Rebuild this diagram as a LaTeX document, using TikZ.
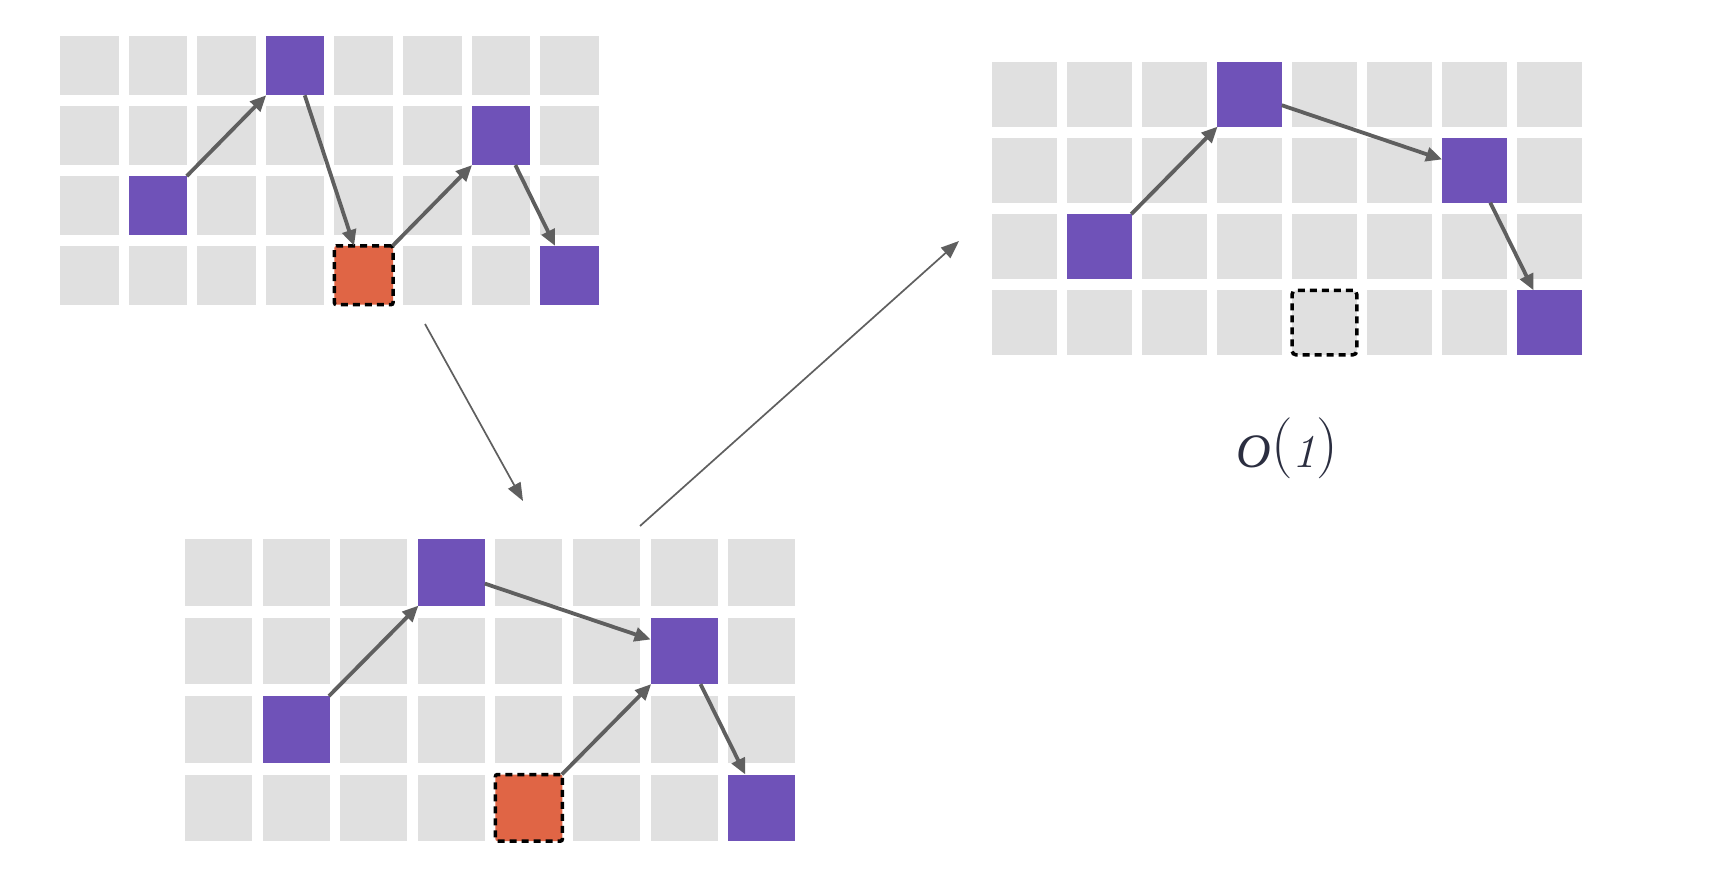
\documentclass[tikz,border=0pt]{standalone}
\usepackage{fontspec}
\newfontfamily\timesish{Liberation Serif}
\usetikzlibrary{arrows.meta}
\definecolor{cellgray}{HTML}{E0E0E0}
\definecolor{vio}{HTML}{6F52B8}
\definecolor{org}{HTML}{E06545}
\definecolor{arr}{HTML}{5F5F5F}
\definecolor{ink}{HTML}{2B2E40}
\tikzset{
  cell/.style={rectangle, inner sep=0pt, outer sep=0pt, fill=cellgray, draw=none},
  hot/.style={fill=vio},
  freed/.style={fill=org, draw=black, line width=3.5pt, dash pattern=on 7pt off 5pt, rounded corners=2pt},
  hole/.style={fill=cellgray, draw=black, line width=3.5pt, dash pattern=on 7pt off 5pt, rounded corners=4pt},
  link/.style={draw=arr, line width=3.8pt, -{Triangle[length=16pt,width=14pt]}},
  jump/.style={draw=arr, line width=1.7pt, -{Triangle[length=18pt,width=14pt]}},
  mkA-3-0/.style=hot, mkA-6-1/.style=hot, mkA-1-2/.style=hot, mkA-7-3/.style=hot, mkA-4-3/.style=freed,
  mkB-3-0/.style=hot, mkB-6-1/.style=hot, mkB-1-2/.style=hot, mkB-7-3/.style=hot, mkB-4-3/.style=freed,
  mkC-3-0/.style=hot, mkC-6-1/.style=hot, mkC-1-2/.style=hot, mkC-7-3/.style=hot, mkC-4-3/.style=hole,
}
\begin{document}
\begin{tikzpicture}[x=1pt,y=-1pt]
\fill[white] (0,0) rectangle (1710,882);
\useasboundingbox (0,0) rectangle (1710,882);
% grid A (top left)
\foreach \col in {0,...,7}{\foreach \row in {0,...,3}{
  \node[cell, minimum width=58.6pt, minimum height=58.8pt, mkA-\col-\row/.try]
    (A-\col-\row) at ({89.3+68.6*\col},{65.9+69.8*\row}) {};}}
% grid B (bottom)
\foreach \col in {0,...,7}{\foreach \row in {0,...,3}{
  \node[cell, minimum width=67pt, minimum height=66.6pt, mkB-\col-\row/.try]
    (B-\col-\row) at ({218.5+77.6*\col},{572.3+78.5*\row}) {};}}
% grid C (top right)
\foreach \col in {0,...,7}{\foreach \row in {0,...,3}{
  \node[cell, minimum width=64.7pt, minimum height=64.6pt, mkC-\col-\row/.try]
    (C-\col-\row) at ({1024.4+75*\col},{94.3+76.1*\row}) {};}}
% arrows in grid A
\draw[link] (A-1-2) -- (A-3-0);
\draw[link] (A-3-0) -- (A-4-3);
\draw[link] (A-4-3) -- (A-6-1);
\draw[link] (A-6-1) -- (A-7-3);
% arrows in grid B
\draw[link] (B-1-2) -- (B-3-0);
\draw[link] (B-3-0) -- (B-6-1);
\draw[link] (B-4-3) -- (B-6-1);
\draw[link] (B-6-1) -- (B-7-3);
% arrows in grid C
\draw[link] (C-1-2) -- (C-3-0);
\draw[link] (C-3-0) -- (C-6-1);
\draw[link] (C-6-1) -- (C-7-3);
% transitions
\coordinate (s1) at (425,324);
\coordinate (e1) at (523,501);
\coordinate (s2) at (640,526);
\coordinate (e2) at (959,241);
\draw[jump] (s1) -- (e1);
\draw[jump] (s2) -- (e2);
% cost label
\node[anchor=base, text=ink, inner sep=0pt] (cost) at (1287,467)
  {{\timesish\fontsize{48}{50}\selectfont\itshape O}\raisebox{4pt}{\fontsize{61}{64}\selectfont(}{\fontsize{47}{50}\selectfont\itshape 1}\raisebox{4pt}{\fontsize{61}{64}\selectfont)}};
\end{tikzpicture}
\end{document}
